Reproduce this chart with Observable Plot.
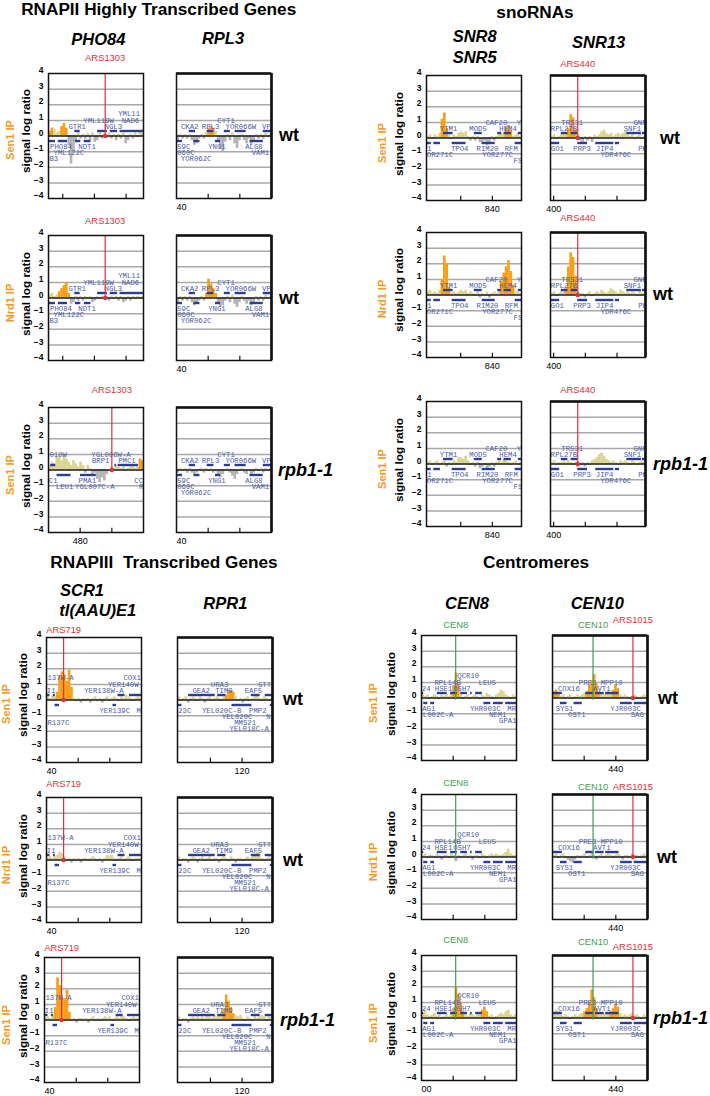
<!DOCTYPE html>
<html><head><meta charset="utf-8">
<script src="https://cdn.jsdelivr.net/npm/d3@7"></script>
<script src="https://cdn.jsdelivr.net/npm/@observablehq/plot@0.6"></script>
<style>
body{margin:0;background:#fff;}
#root{position:relative;width:710px;height:1096px;overflow:hidden;background:#fff;font-family:"Liberation Sans",Arial,sans-serif;}
.t{position:absolute;white-space:pre;line-height:1;transform:translate(-50%,-50%);color:#000;}
.tl{position:absolute;white-space:pre;line-height:1;transform:translate(0,-50%);color:#000;}
.rot{position:absolute;white-space:pre;line-height:1;transform:translate(-50%,-50%) rotate(-90deg);}
.panel{position:absolute;}
</style></head><body><div id="root"></div>
<script>
// ---------- x domains (kb) ----------
const domPho84 = [15.5, 45.5];
const domChr7 = [470, 500];
const domRpl3 = [40, 70];
const domSnr8 = [819.2, 849.2];
const domSnr13 = [399, 429];
const domScr1 = [40, 70];
const domRpr1 = [99.6, 129.6];
const domCen8 = [100, 130];
const domCen10 = [420, 450];

// ---------- x ticks and tick labels ----------
const tickPho84 = [20, 30, 40];
const tickChr7 = [480, 490];
const tickRpl3 = [50, 60];
const tickSnr8 = [830, 840];
const tickSnr13 = [400, 410, 420];
const tickScr1 = [50, 60];
const tickRpr1 = [110, 120];
const tickCen8 = [110, 120];
const tickCen10 = [430, 440];
const tlChr7 = [[480, "480"]];
const tlRpl3 = [[40, "40"]];
const tlSnr8 = [[840, "840"]];
const tlSnr13 = [[400, "400"]];
const tlScr1 = [[40, "40"]];
const tlRpr1 = [[120, "120"]];
const tlCen8Rpb = [[100, "00"]];
const tlCen10 = [[440, "440"]];
const yTickVals = [-4, -3, -2, -1, 0, 1, 2, 3, 4];
const gridVals = [-3, -2, -1, 1, 2, 3];

// ---------- gene annotations: dashes [start, end, strand], labels [name, x, level] ----------
const dashPho84 = [[15.5,17.7,-1],[18.6,21.5,-1],[24.0,25.7,-1],[26.8,28.9,-1],[23.8,25.5,1],[31.0,34.1,1],[35.0,37.3,1],[38.1,45.5,1]];
const labelPho84 = [["GTR1",21.8,1],["NGL3",33.2,1],["YML119W",26.5,2],["NAD6",38.6,2],["YML11",37.5,3],["PHO84",16.0,-1],["NDT1",24.9,-1],["YML122C",17.1,-2],["B3",15.8,-3]];
const dashChr7 = [[470.7,472.3,1],[491.0,491.5,1],[492.0,498.4,1],[472.7,477.1,-1],[480.1,485.1,-1]];
const labelChr7 = [["010W",470.3,2],["YGL006W-A",483.5,2],["BRP1",483.7,1],["PMC1",492.0,1],["C1",470.1,-1],["PMA1",479.5,-1],["CC",497.1,-1],["LEU1",472.3,-2],["YGL007C-A",478.4,-2],["R",498.6,-2]];
const dashRpl3 = [[44.0,46.0,1],[49.7,51.8,1],[55.1,57.0,1],[58.5,62.0,1],[67.4,70,1],[40,41.9,-1],[45.5,47.4,-1],[52.3,53.9,-1],[63.2,67.4,-1]];
const labelRpl3 = [["CKA2",41.4,1],["RPL3",48.0,1],["CYT1",52.9,2],["YOR066W",55.5,1],["VP",67.0,1],["59C",40.2,-1],["YNG1",50.0,-1],["ALG8",61.7,-1],["060C",40.2,-2],["VAM1",63.75,-2],["YOR062C",41.35,-3]];
const dashSnr8 = [[824.6,827.6,1],[834.3,836.8,1],[841.7,842.9,1],[843.7,846.0,1],[848.2,849.2,1],[819.2,820.7,-1],[821.5,823.6,-1],[827.3,831.7,-1],[836.8,840.9,-1],[847.2,849.2,-1]];
const labelSnr8 = [["YTM1",823.4,1],["MOD5",832.7,1],["CAF20",837.8,2],["HEM4",842.2,1],["Y",847.7,2],["1",819.4,-1],["TPO4",826.9,-1],["RIM20",835.0,-1],["RFM",843.9,-1],["OR271C",819.3,-2],["YOR277C",836.8,-2],["FS",846.7,-3]];
const dashSnr13 = [[402.4,404.5,1],[405.5,407.6,1],[423.1,427.7,1],[428,429,1],[399,401.9,-1],[407.6,410.7,-1],[413.3,419,-1],[419.5,420.8,-1]];
const labelSnr13 = [["RPL27B",399.1,1],["TRS31",402.4,2],["SNF1",422.1,1],["GNP",425.2,2],["GO1",399.1,-1],["PRP3",406.2,-1],["JIP4",413.3,-1],["PH",426.7,-1],["YDR476C",414.8,-2]];
const dashScr1 = [[40,41.1,1],[42.2,42.8,1],[62.6,64.8,1],[66.2,70,1],[42.7,44.1,-1],[61,62.1,-1]];
const labelScr1 = [["137W-A",40.3,3],["I1",40.1,1],["YER138W-A",51.9,1],["YER140W",59.4,2],["COX1",64.3,3],["YER139C",56.7,-1],["M",68.4,-1],["R137C",40.3,-3]];
const dashRpr1 = [[103.1,111.5,1],[112.3,114.9,1],[122.9,125.7,1],[127.3,129.6,1],[99.6,101,-1],[116.8,123.1,-1],[128.9,129.6,-1]];
const labelRpr1 = [["GEA2",104.3,1],["TIM9",111.5,1],["URA3",110.1,2],["EAF5",120.8,1],["GTT",125,2],["23C",99.8,-1],["YEL020C-B",107.3,-1],["PMP2",122.2,-1],["YEL020C",113.6,-2],["N",127.6,-2],["MMS21",117.5,-3],["YEL018C-A",116,-4]];
const dashCen8 = [[100,100.7,1],[105,108.1,1],[109.2,111.3,1],[112.4,114.5,1],[115.5,116,1],[117.1,119.2,1],[100.7,102,-1],[102.9,104.1,-1],[119.7,121.9,-1],[122.7,125.8,-1],[126.6,130,-1]];
const labelCen8 = [["QCR10",111.3,3],["RPL14B",104.1,2],["LEU5",118,2],["24",100.1,1],["HSE1",104.2,1],["OSH7",110,1],["AG1",100.2,-1],["YHR003C",115.3,-1],["MR",127.1,-1],["L002C-A",100.4,-2],["NEM1",121.3,-2],["GPA1",124.5,-3]];
const dashCen10 = [[420,423.1,1],[430.5,433.1,1],[433.6,436.3,1],[436.8,441,1],[422.5,424.6,-1],[426.8,429.4,-1],[441.5,445.2,-1],[445.8,450,-1]];
const labelCen10 = [["COX16",421.7,1],["PRE3",428.3,2],["MPP10",435.2,2],["AVT1",432.8,1],["SYS1",421,-1],["OST1",424.9,-2],["YJR003C",438.2,-1],["SAG",444.7,-2]];

// ---------- landmarks ----------
const markPho84 = [["ARS1303",33.4]];
const markChr7 = [["ARS1303",490]];
const markSnr13 = [["ARS440",407.6]];
const markScr1 = [["ARS719",45.4]];
const markCen8 = [["CEN8",110.8]];
const markCen10 = [["CEN10",432.8],["ARS1015",445.4]];

// ---------- signal log ratios (40 bins per window) ----------
const sigPho84Sen1Wt = [0.3,0.5,0.4,0.2,0.3,0.6,0.8,0.5,-0.6,-1.8,-1.0,-0.3,0.2,-0.2,0.1,-0.2,0.15,-0.3,0.2,-0.4,-0.3,0.2,-0.2,0.1,-0.1,0.2,-0.2,0.1,-0.3,0.1,-0.2,0.2,-0.5,-0.3,0.1,-0.2,0.2,-0.1,0.3,0.2];
const sigPho84Nrd1Wt = [0.2,0.3,0.1,0.2,0.4,0.6,0.8,1.0,0.3,-0.4,-0.3,0.1,-0.2,0.1,-0.2,0.1,-0.1,0.1,-0.3,-0.2,0.1,-0.1,0.1,-0.1,0.1,-0.2,0.1,-0.1,0.1,-0.2,0.1,-0.3,-0.2,0.1,-0.2,0.1,-0.1,0.1,-0.1,0.1];
const sigChr7Sen1Rpb = [0.3,0.5,0.4,0.8,0.9,0.6,0.9,0.7,0.5,0.3,0.6,0.4,0.2,0.5,0.3,-0.2,0.3,0.1,-0.3,-0.2,-0.6,-0.8,-0.5,-0.7,-0.3,-0.1,0.2,0.1,0.3,0.2,0.1,0.2,-0.1,0.1,0.2,0.3,0.1,0.2,0.7,0.6];
const sigRpl3Sen1Wt = [-0.4,0.1,-0.2,0.1,-0.2,0.1,-0.3,-0.6,-0.5,-0.2,0.1,-0.2,0.2,0.5,0.6,0.5,0.3,-0.3,-0.8,-1.0,-0.4,0.1,-0.3,0.2,-0.5,-0.8,-0.3,0.1,-0.3,-0.5,-0.2,-0.6,-0.3,0.1,-0.2,0.1,-0.2,0.2,-0.1,0.1];
const sigRpl3Nrd1Wt = [-0.3,0.1,-0.2,0.1,-0.2,0.1,-0.3,-0.5,-0.4,-0.2,0.1,-0.2,0.3,1.2,0.9,0.6,0.3,-0.3,-0.6,-0.5,-0.2,0.1,-0.3,0.2,-0.4,-0.6,-0.3,0.1,-0.2,-0.4,-0.2,-0.5,-0.3,0.1,-0.2,0.1,-0.2,0.2,-0.1,0.1];
const sigRpl3Sen1Rpb = [-0.2,0.1,-0.1,0.1,-0.2,0.1,-0.2,-0.3,-0.2,-0.1,0.1,-0.2,0.1,-0.1,0.1,-0.2,-0.1,-0.4,-0.5,-0.3,-0.1,0.1,-0.2,-0.4,-0.6,-0.3,-0.1,0.1,-0.2,-0.3,-0.1,-0.4,-0.2,0.1,-0.1,0.1,-0.2,0.1,-0.1,0.1];
const sigSnr8Sen1Wt = [0.1,0.2,-0.1,0.2,0.1,0.3,1.2,1.6,0.6,0.2,-0.1,0.2,0.1,0.3,0.4,0.3,0.4,0.1,-0.2,0.1,-0.2,0.1,-0.3,-0.4,-0.2,-0.5,-0.3,0.1,-0.2,0.1,0.2,0.3,0.3,0.7,0.8,0.5,0.1,0.2,0.3,0.1];
const sigSnr8Nrd1Wt = [0.2,0.3,0.1,0.2,0.1,0.3,1.0,2.5,2.0,0.5,0.1,0.2,0.1,0.2,0.3,0.2,0.3,0.1,0.2,0.1,-0.1,0.2,-0.2,0.1,-0.1,0.2,-0.2,0.1,0.2,0.1,0.3,0.8,1.4,1.8,2.2,1.5,0.6,0.2,0.2,0.1];
const sigSnr8Sen1Rpb = [0.1,0.2,-0.1,0.1,0.2,-0.1,0.1,0.2,-0.2,0.1,-0.1,0.2,0.1,0.4,0.4,0.3,0.5,0.2,-0.1,0.1,-0.2,0.1,-0.3,-0.2,-0.1,-0.3,-0.2,0.1,-0.2,0.1,0.2,0.1,0.3,0.2,0.1,-0.1,0.1,0.2,-0.1,0.1];
const sigSnr13Sen1Wt = [0.1,0.2,-0.1,0.1,0.2,0.3,0.3,0.6,1.5,1.3,0.5,0.2,-0.2,-0.3,0.1,-0.2,0.1,-0.3,0.2,0.1,0.2,0.4,0.5,0.3,0.2,0.3,0.1,0.2,0.3,0.2,0.3,0.4,0.2,0.1,0.2,-0.1,0.1,0.2,-0.1,0.1];
const sigSnr13Nrd1Wt = [0.1,0.2,-0.1,0.1,0.2,0.2,0.4,1.8,2.7,2.4,1.2,0.2,-0.1,0.1,-0.2,0.1,0.2,-0.1,0.1,0.2,0.1,0.3,0.2,0.1,0.2,0.4,0.3,0.2,0.1,0.3,0.2,0.1,0.2,0.1,0.2,0.1,-0.1,0.2,0.1,0.1];
const sigSnr13Sen1Rpb = [0.1,0.2,-0.1,0.1,0.1,0.2,0.1,0.2,0.1,-0.1,0.1,-0.2,-0.1,0.1,-0.2,0.1,-0.1,0.2,0.3,0.4,0.6,0.7,0.5,0.3,0.2,0.1,0.2,0.1,-0.1,0.2,0.1,0.2,0.1,-0.1,0.2,0.1,-0.1,0.1,0.2,0.1];
const sigScr1Sen1Wt = [0.2,0.1,0.3,0.2,0.5,1.5,1.8,1.6,1.2,1.9,0.8,0.1,-0.1,0.1,-0.2,0.1,-0.1,0.1,-0.2,0.1,0.2,-0.1,0.1,-0.2,0.1,0.2,-0.1,0.1,0.2,0.1,-0.1,0.2,0.1,0.3,0.2,0.1,-0.1,0.1,0.2,0.1];
const sigScr1Nrd1Wt = [0.1,0.2,0.1,0.2,0.3,0.5,0.4,0.2,-0.1,0.1,-0.2,0.1,-0.1,0.1,-0.2,0.1,0.1,-0.1,0.1,0.2,0.1,-0.1,0.1,-0.2,0.1,0.3,0.2,0.3,0.1,-0.1,0.1,0.2,-0.1,0.1,0.2,0.1,-0.1,0.1,0.1,0.1];
const sigScr1Sen1Rpb = [0.1,0.2,0.1,0.3,0.8,2.7,2.2,1.4,1.3,1.9,0.5,-0.1,0.1,-0.2,0.1,0.1,-0.1,0.1,-0.2,0.1,0.2,-0.1,0.1,-0.1,0.1,0.2,0.1,0.2,-0.1,0.1,0.2,0.1,0.3,0.2,0.1,-0.1,0.1,0.2,0.1,0.1];
const sigRpr1Sen1Wt = [0.2,-0.1,0.1,0.2,-0.2,0.1,0.2,0.1,-0.1,0.2,0.1,-0.2,0.1,0.2,-0.1,0.1,0.2,0.1,-0.1,0.2,0.3,0.6,0.6,0.5,0.2,-0.1,0.1,-0.2,0.1,0.2,-0.1,0.1,0.2,0.3,0.1,-0.1,0.2,0.1,-0.1,0.1];
const sigRpr1Nrd1Wt = [0.2,-0.1,0.1,0.1,-0.2,0.1,0.2,0.1,-0.2,0.1,0.2,-0.1,0.1,0.2,-0.1,0.1,0.1,-0.2,0.1,0.2,0.1,-0.1,0.2,0.1,-0.2,0.1,0.1,-0.1,0.1,0.2,0.1,0.2,0.3,0.5,0.4,0.1,-0.1,0.1,0.2,0.1];
const sigRpr1Sen1Rpb = [0.2,-0.1,0.1,0.1,-0.2,0.1,0.2,0.1,0.2,0.1,0.2,0.1,0.3,0.2,0.1,0.3,0.2,0.3,0.4,0.7,1.6,1.2,0.8,0.4,0.3,0.2,0.3,0.1,-0.1,0.2,0.1,-0.1,0.2,0.1,0.2,0.3,0.2,-0.1,0.2,0.1];
const sigCen8Sen1Wt = [0.2,0.1,0.2,-0.1,0.1,0.2,0.1,-0.1,0.2,0.1,0.2,0.1,0.3,0.8,1.6,0.9,0.2,-0.1,0.1,0.2,-0.1,0.1,0.2,0.1,-0.1,0.2,0.1,0.3,0.2,0.1,-0.1,0.2,0.3,0.5,0.4,0.2,0.1,-0.1,0.2,0.1];
const sigCen8Nrd1Wt = [0.1,0.2,-0.1,0.1,0.1,-0.1,0.2,0.1,-0.2,0.1,0.1,-0.1,0.2,0.1,-0.3,0.1,-0.1,0.1,0.2,-0.1,0.1,-0.2,0.1,0.1,-0.1,0.2,0.1,-0.1,0.1,0.2,0.1,0.2,0.1,0.1,0.2,0.3,0.5,0.2,0.1,0.1];
const sigCen8Sen1Rpb = [0.3,0.5,0.2,0.1,0.2,0.3,0.1,0.2,-0.1,0.1,0.2,0.1,0.3,0.6,2.0,1.5,1.0,0.4,0.2,0.1,0.3,0.2,0.1,0.2,0.3,0.5,0.7,0.4,0.1,0.2,-0.1,0.1,0.2,0.3,0.2,0.4,0.5,0.2,0.1,0.2];
const sigCen10Sen1Wt = [0.4,0.5,0.3,0.1,0.2,-0.1,0.1,0.2,-0.1,0.1,0.2,0.1,0.2,0.3,0.4,0.8,1.1,1.5,0.9,0.4,0.3,0.2,0.3,0.4,0.3,0.5,0.8,0.6,0.2,0.1,0.2,0.1,-0.1,0.1,0.2,0.1,-0.1,0.1,0.2,0.1];
const sigCen10Nrd1Wt = [0.1,0.2,-0.1,0.1,0.2,-0.1,-0.2,-0.3,-0.4,-0.2,0.1,-0.1,0.1,0.2,-0.1,0.1,0.2,0.1,-0.2,0.1,0.2,-0.1,0.1,0.2,0.1,-0.1,0.1,0.2,0.1,-0.2,0.1,0.1,-0.1,0.2,0.1,0.1,-0.1,0.1,0.2,0.1];
const sigCen10Sen1Rpb = [0.3,0.5,0.4,0.2,0.1,0.2,0.1,-0.1,0.1,0.2,0.1,0.2,0.3,0.4,0.6,1.0,1.8,1.3,0.6,0.3,0.2,0.3,0.2,0.3,0.4,0.6,0.9,0.7,0.3,0.1,0.2,0.1,0.2,0.3,0.1,0.2,0.1,-0.1,0.2,0.1];

// ---------- enriched (orange) bin ranges ----------
const pkPho84Sen1Wt = [[0,1],[5,7]];
const pkPho84Nrd1Wt = [[4,8]];
const pkChr7Sen1Rpb = [[38,39]];
const pkRpl3Sen1Wt = [[13,15]];
const pkRpl3Nrd1Wt = [[12,16]];
const pkRpl3Sen1Rpb = [];
const pkSnr8Sen1Wt = [[6,8],[33,35]];
const pkSnr8Nrd1Wt = [[6,9],[31,36]];
const pkSnr8Sen1Rpb = [];
const pkSnr13Sen1Wt = [[7,10]];
const pkSnr13Nrd1Wt = [[6,10]];
const pkSnr13Sen1Rpb = [];
const pkScr1Sen1Wt = [[4,10]];
const pkScr1Nrd1Wt = [];
const pkScr1Sen1Rpb = [[4,10]];
const pkRpr1Sen1Wt = [[20,23]];
const pkRpr1Nrd1Wt = [];
const pkRpr1Sen1Rpb = [[19,23]];
const pkCen8Sen1Wt = [[13,15]];
const pkCen8Nrd1Wt = [];
const pkCen8Sen1Rpb = [[13,17],[25,27]];
const pkCen10Sen1Wt = [[0,2],[14,19],[25,27]];
const pkCen10Nrd1Wt = [];
const pkCen10Sen1Rpb = [[13,18],[24,27]];

// ---------- row / group texts ----------
const groupTitles = ["RNAPII Highly Transcribed Genes", "snoRNAs", "RNAPIII  Transcribed Genes", "Centromeres"];
const ipNames = ["Sen1 IP", "Nrd1 IP", "Sen1 IP"];
const strainNames = ["wt", "wt", "rpb1-1"];

// ---------- styling ----------
const ORANGE = "#f6a01a", KHAKI = "#dcd590", GRAY = "#b4b4b4", GRID = "#a8a8a8";
const DASH = "#2b3d9b", LABEL = "#4c5ba2", RED = "#e0303c", GREEN = "#3f9e4f";
const LVL = {"1":0.6,"2":1.0,"3":1.42,"-1":-0.65,"-2":-1.05,"-3":-1.45,"-4":-1.85};
const W = 95, H = 125, ML = 22, MR = 4, MT = 26, MB = 14;

const A = {dom:domPho84, dash:dashPho84, lab:labelPho84, mark:markPho84, ticks:tickPho84, tl:[]};
const B = {dom:domChr7, dash:dashChr7, lab:labelChr7, mark:markChr7, ticks:tickChr7, tl:tlChr7};
const C = {dom:domRpl3, dash:dashRpl3, lab:labelRpl3, mark:[], ticks:tickRpl3, tl:tlRpl3};
const D = {dom:domSnr8, dash:dashSnr8, lab:labelSnr8, mark:[], ticks:tickSnr8, tl:tlSnr8};
const E = {dom:domSnr13, dash:dashSnr13, lab:labelSnr13, mark:markSnr13, ticks:tickSnr13, tl:tlSnr13};
const F = {dom:domScr1, dash:dashScr1, lab:labelScr1, mark:markScr1, ticks:tickScr1, tl:tlScr1};
const G = {dom:domRpr1, dash:dashRpr1, lab:labelRpr1, mark:[], ticks:tickRpr1, tl:tlRpr1};
const Hh = {dom:domCen8, dash:dashCen8, lab:labelCen8, mark:markCen8, ticks:tickCen8, tl:[]};
const I = {dom:domCen10, dash:dashCen10, lab:labelCen10, mark:markCen10, ticks:tickCen10, tl:tlCen10};

const panels = [
  {...A, sig:sigPho84Sen1Wt, pk:pkPho84Sen1Wt, fx:47.7, fy:72.6, col:0, mdy:[-15.6]},
  {...C, sig:sigRpl3Sen1Wt, pk:pkRpl3Sen1Wt, fx:175.7, fy:72.6, col:1, mdy:[]},
  {...A, sig:sigPho84Nrd1Wt, pk:pkPho84Nrd1Wt, fx:47.7, fy:235, col:0, mdy:[-15]},
  {...C, sig:sigRpl3Nrd1Wt, pk:pkRpl3Nrd1Wt, fx:175.7, fy:235, col:1, mdy:[]},
  {...B, sig:sigChr7Sen1Rpb, pk:pkChr7Sen1Rpb, fx:47.7, fy:407, col:0, mdy:[-18]},
  {...C, sig:sigRpl3Sen1Rpb, pk:pkRpl3Sen1Rpb, fx:175.7, fy:407, col:1, mdy:[]},

  {...D, sig:sigSnr8Sen1Wt, pk:pkSnr8Sen1Wt, fx:425.7, fy:75, col:0, mdy:[]},
  {...E, sig:sigSnr13Sen1Wt, pk:pkSnr13Sen1Wt, fx:549.5, fy:75, col:1, mdy:[-12]},
  {...D, sig:sigSnr8Nrd1Wt, pk:pkSnr8Nrd1Wt, fx:425.7, fy:231.7, col:0, mdy:[]},
  {...E, sig:sigSnr13Nrd1Wt, pk:pkSnr13Nrd1Wt, fx:549.5, fy:231.7, col:1, mdy:[-15]},
  {...D, sig:sigSnr8Sen1Rpb, pk:pkSnr8Sen1Rpb, fx:425.7, fy:401, col:0, mdy:[]},
  {...E, sig:sigSnr13Sen1Rpb, pk:pkSnr13Sen1Rpb, fx:549.5, fy:401, col:1, mdy:[-11.7]},

  {...F, sig:sigScr1Sen1Wt, pk:pkScr1Sen1Wt, fx:46, fy:636.7, col:0, mdy:[-7.7]},
  {...G, sig:sigRpr1Sen1Wt, pk:pkRpr1Sen1Wt, fx:176.5, fy:636.7, col:1, mdy:[]},
  {...F, sig:sigScr1Nrd1Wt, pk:pkScr1Nrd1Wt, fx:46, fy:797.3, col:0, mdy:[-13.3]},
  {...G, sig:sigRpr1Nrd1Wt, pk:pkRpr1Nrd1Wt, fx:176.5, fy:797.3, col:1, mdy:[]},
  {...F, sig:sigScr1Sen1Rpb, pk:pkScr1Sen1Rpb, fx:44.3, fy:957.3, col:0, mdy:[-9.6]},
  {...G, sig:sigRpr1Sen1Rpb, pk:pkRpr1Sen1Rpb, fx:177.3, fy:957.3, col:1, mdy:[]},

  {...Hh, sig:sigCen8Sen1Wt, pk:pkCen8Sen1Wt, fx:421, fy:635, col:0, mdy:[-11]},
  {...I, sig:sigCen10Sen1Wt, pk:pkCen10Sen1Wt, fx:552, fy:635, col:1, mdy:[-11,-15.7]},
  {...Hh, sig:sigCen8Nrd1Wt, pk:pkCen8Nrd1Wt, fx:421, fy:794, col:0, mdy:[-11.3]},
  {...I, sig:sigCen10Nrd1Wt, pk:pkCen10Nrd1Wt, fx:552, fy:794, col:1, mdy:[-7.3,-7.3]},
  {...Hh, sig:sigCen8Sen1Rpb, pk:pkCen8Sen1Rpb, fx:421, fy:955.3, col:0, mdy:[-15.3], tl:tlCen8Rpb},
  {...I, sig:sigCen10Sen1Rpb, pk:pkCen10Sen1Rpb, fx:552, fy:955.3, col:1, mdy:[-13.6,-8.6]}
];

const isCen = d => d[0].startsWith("CEN");
function colorOf(i, v, pk) {
  if (v <= 0) return GRAY;
  for (const [a, b] of pk) if (i >= a && i <= b) return ORANGE;
  return KHAKI;
}

function makePanel(p) {
  const [d0, d1] = p.dom;
  const step = (d1 - d0) / p.sig.length;
  const bars = p.sig.map((v, i) => ({x: d0 + (i + 0.5) * step, v, c: colorOf(i, v, p.pk)}));
  const marks = [
    Plot.ruleY(gridVals, {stroke: GRID, strokeWidth: 1.5}),
    Plot.ruleX(bars, {x: "x", y1: 0, y2: "v", stroke: "c", strokeWidth: 2.7, clip: true}),
    Plot.ruleY([0], {stroke: "#1a1a1a", strokeWidth: 1.4}),
    Plot.ruleY(p.dash, {x1: d => d[0], x2: d => d[1], y: d => d[2] * 0.32, stroke: DASH, strokeWidth: 2.4, clip: true}),
    Plot.text(p.lab, {x: d => d[1], y: d => LVL[d[2]], text: d => d[0], textAnchor: "start",
      fontFamily: "Liberation Mono, Courier New, monospace", fontSize: 7.3, fontWeight: "normal", fill: LABEL, clip: true}),
    Plot.ruleX(p.mark, {x: d => d[1], y1: d => isCen(d) ? -0.15 : 0, y2: 4, stroke: d => isCen(d) ? GREEN : RED, strokeWidth: 1.2}),
    Plot.dot(p.mark.filter(d => !isCen(d)), {x: d => d[1], y: 0, r: 2.2, fill: RED}),
    ...p.mark.map((m, k) => Plot.text([m], {x: d => d[1], y: 4, dy: p.mdy[k] ?? -12, text: d => d[0],
      fill: isCen(m) ? GREEN : RED, fontSize: 9.4, fontWeight: "normal"})),
    Plot.frame({stroke: "#111", strokeWidth: 1.5}),
    Plot.ruleX(p.ticks, {x: d => d, y1: -4, y2: -3.72, stroke: "#111", strokeWidth: 1.2}),
    Plot.text(p.tl.filter(d => d[0] - d0 < 0.5), {x: d => d[0], y: -4, dy: 9, text: d => d[1], textAnchor: "start", fontSize: 9, fontWeight: "normal"}),
    Plot.text(p.tl.filter(d => d[0] - d0 >= 0.5), {x: d => d[0], y: -4, dy: 9, text: d => d[1], fontSize: 9, fontWeight: "normal"})
  ];
  if (p.col === 1) {
    marks.push(Plot.ruleY([4], {stroke: "#111", strokeWidth: 2.6}));
    marks.push(Plot.ruleX([d1], {stroke: "#111", strokeWidth: 2.6}));
  } else {
    marks.push(Plot.text(yTickVals, {x: d0, y: d => d, text: d => d < 0 ? "\u2212" + (-d) : String(d),
      textAnchor: "end", dx: -5, dy: -3, fontSize: 8.5, fontWeight: "bold"}));
  }
  const svg = Plot.plot({
    width: W + ML + MR, height: H + MT + MB,
    marginLeft: ML, marginRight: MR, marginTop: MT, marginBottom: MB,
    x: {domain: p.dom, axis: null},
    y: {domain: [-4, 4], axis: null},
    color: {type: "identity"},
    style: {fontFamily: "Liberation Sans, Arial, sans-serif", fontSize: "8px", background: "transparent", overflow: "visible"},
    marks
  });
  const div = document.createElement("div");
  div.className = "panel";
  div.style.left = (p.fx - ML) + "px";
  div.style.top = (p.fy - MT) + "px";
  div.appendChild(svg);
  return div;
}

const root = document.getElementById("root");
for (const p of panels) root.appendChild(makePanel(p));

function addText(txt, x, y, cls, css) {
  const el = document.createElement("div");
  el.className = cls;
  el.textContent = txt;
  el.style.left = x + "px";
  el.style.top = y + "px";
  Object.assign(el.style, css);
  root.appendChild(el);
}
const titleCss = {fontSize: "17.2px", fontWeight: "bold"};
const geneCss = {fontSize: "16.5px", fontWeight: "bold", fontStyle: "italic"};
addText(groupTitles[0], 158.7, 9.5, "t", titleCss);
addText(groupTitles[1], 535, 12.7, "t", titleCss);
addText(groupTitles[2], 164, 563.3, "t", titleCss);
addText(groupTitles[3], 536, 563.3, "t", titleCss);
addText("PHO84", 98.3, 39.3, "t", geneCss);
addText("RPL3", 223, 38.3, "t", geneCss);
addText("SNR8", 474.7, 36, "t", geneCss);
addText("SNR5", 474.7, 57.3, "t", geneCss);
addText("SNR13", 598.7, 41.7, "t", geneCss);
addText("SCR1", 60, 590, "tl", geneCss);
addText("tl(AAU)E1", 59.3, 610, "tl", geneCss);
addText("RPR1", 225.3, 602.7, "t", geneCss);
addText("CEN8", 467, 602.7, "t", geneCss);
addText("CEN10", 597.3, 602.7, "t", geneCss);

const groups = [
  {ylab: 27.3, ip: 10, fys: [72.6, 235, 407], tag: [279, 279, 278]},
  {ylab: 400, ip: 381.7, fys: [75, 231.7, 401], tag: [660, 653, 653]},
  {ylab: 24, ip: 6, fys: [636.7, 797.3, 957.3], tag: [283, 283, 280]},
  {ylab: 391.7, ip: 373.3, fys: [635, 794, 955.3], tag: [658, 657, 653]}
];
for (const g of groups) {
  g.fys.forEach((fy, r) => {
    const mid = fy + H / 2;
    addText("signal log ratio", g.ylab, mid - 4, "rot", {fontSize: "11.8px", fontWeight: "bold", color: "#000"});
    addText(ipNames[r], g.ip, mid + 5, "rot", {fontSize: "11px", fontWeight: "bold", color: "#f39a1e"});
    addText(strainNames[r], g.tag[r], mid, "tl", {fontSize: "18px", fontWeight: "bold", fontStyle: r === 2 ? "italic" : "normal"});
  });
}
</script></body></html>
